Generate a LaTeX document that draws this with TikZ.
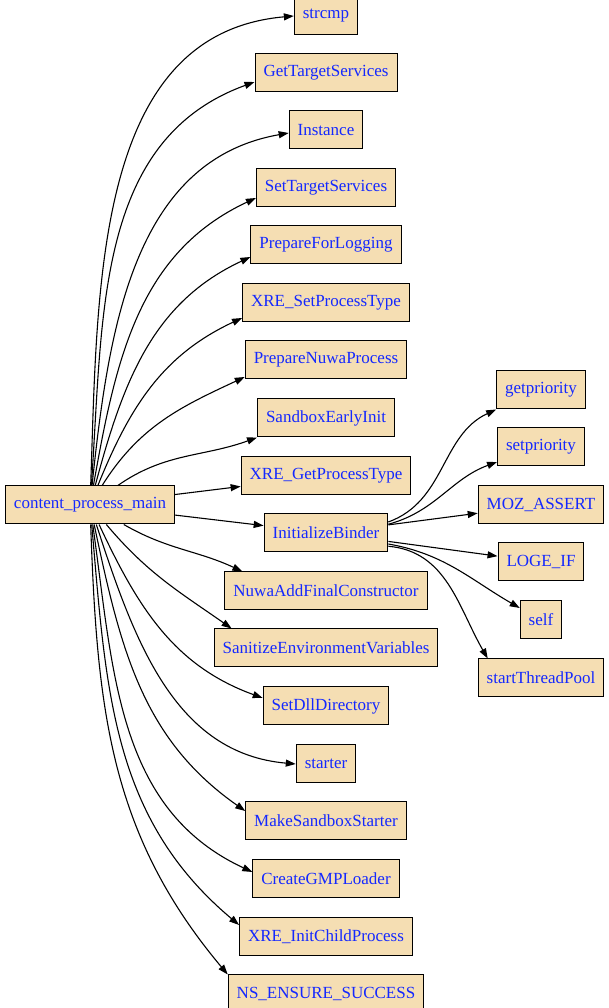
\documentclass[tikz,border=0pt]{standalone}
\usepackage{fontspec}
\setmainfont{Liberation Serif}
\usetikzlibrary{arrows.meta}
\definecolor{boxfill}{RGB}{245,222,179}
\definecolor{labelblue}{RGB}{20,40,255}
\begin{document}
\begin{tikzpicture}[
    x=1pt, y=1pt,
    every node/.style={draw, rectangle, fill=boxfill, text=labelblue, font=\fontsize{17}{20}\selectfont,
                       minimum height=38pt, inner xsep=8.5pt, line width=1pt},
    call/.style={draw, line width=1.1pt, -{Triangle[length=10pt,width=7pt]}}
]
\useasboundingbox (0,0) rectangle (608,1008);
\node (main) at (90,503) {content\_process\_main};
% callees of content_process_main
\node (strcmp) at (326,992) {strcmp};
\node (gts) at (326,935) {GetTargetServices};
\node (inst) at (326,878) {Instance};
\node (sts) at (326,820) {SetTargetServices};
\node (pfl) at (326,763) {PrepareForLogging};
\node (xsp) at (326,705) {XRE\_SetProcessType};
\node (pnp) at (326,648) {PrepareNuwaProcess};
\node (sei) at (326,590) {SandboxEarlyInit};
\node (xgp) at (326,532) {XRE\_GetProcessType};
\node (ib) at (326,475) {InitializeBinder};
\node (nafc) at (326,417) {NuwaAddFinalConstructor};
\node (sev) at (326,360) {SanitizeEnvironmentVariables};
\node (sdd) at (326,302) {SetDllDirectory};
\node (starter) at (326,244) {starter};
\node (msb) at (326,187) {MakeSandboxStarter};
\node (gmp) at (326,129) {CreateGMPLoader};
\node (xicp) at (326,71) {XRE\_InitChildProcess};
\node (nses) at (326,14) {NS\_ENSURE\_SUCCESS};
% callees of InitializeBinder
\node (gp) at (541,618) {getpriority};
\node (sp) at (541,561) {setpriority};
\node (moz) at (541,503) {MOZ\_ASSERT};
\node (loge) at (541,446) {LOGE\_IF};
\node (self) at (541,388) {self};
\node (stp) at (541,330) {startThreadPool};

\draw[call] (main) to[out=88,in=185] (strcmp.west);
\draw[call] (main) to[out=86,in=200] ([yshift=-9pt]gts.west);
\draw[call] (main) to[out=84,in=190] ([yshift=-3pt]inst.west);
\draw[call] (main) to[out=80,in=205] ([yshift=-10pt]sts.west);
\draw[call] (main) to[out=75,in=205] ([yshift=-12pt]pfl.west);
\draw[call] (main) to[out=68,in=205] ([yshift=-15pt]xsp.west);
\draw[call] (main) to[out=58,in=205] ([yshift=-17pt]pnp.west);
\draw[call] (main) to[out=35,in=200] (sei.south west);
\draw[call] (main) -- (xgp);
\draw[call] (main) -- (ib);
\draw[call] (main) to[out=-30,in=155] ([xshift=18pt]nafc.north west);
\draw[call] (main) to[out=-50,in=145] ([xshift=18pt]sev.north west);
\draw[call] (main) to[out=-65,in=160] ([yshift=8pt]sdd.west);
\draw[call] (main) to[out=-72,in=175] (starter.west);
\draw[call] (main) to[out=-78,in=145] ([yshift=10pt]msb.west);
\draw[call] (main) to[out=-82,in=155] ([yshift=7pt]gmp.west);
\draw[call] (main) to[out=-85,in=140] ([yshift=12pt]xicp.west);
\draw[call] (main) to[out=-88,in=130] (nses.north west);

\draw[call] (ib.10) to[out=20,in=205] (gp.south west);
\draw[call] (ib.8) to[out=15,in=200] ([yshift=-15pt]sp.west);
\draw[call] (ib) -- (moz);
\draw[call] (ib) -- (loge);
\draw[call] (ib.-10) to[out=-10,in=150] ([yshift=12pt]self.west);
\draw[call] (ib.-12) to[out=-5,in=120] ([xshift=10pt]stp.north west);
\end{tikzpicture}
\end{document}
